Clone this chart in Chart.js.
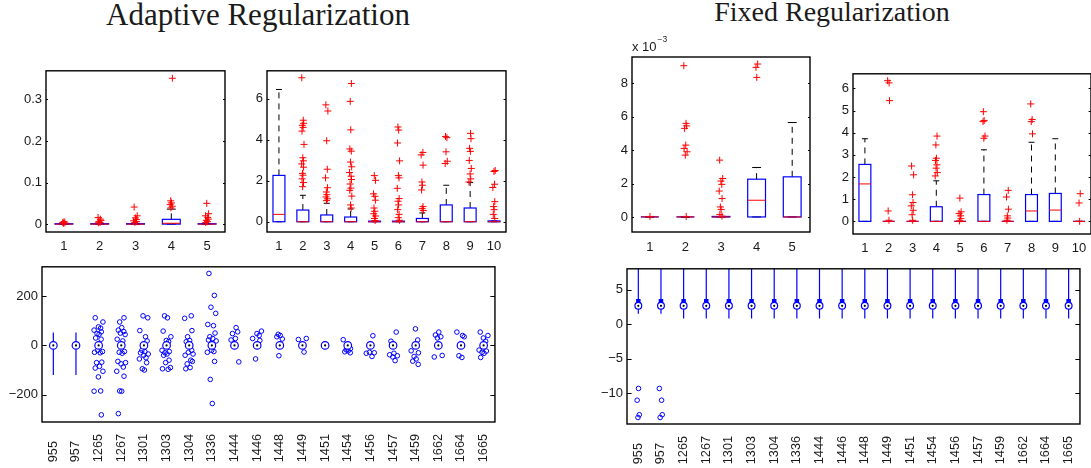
<!DOCTYPE html>
<html>
<head>
<meta charset="utf-8">
<script src="https://cdn.jsdelivr.net/npm/chart.js@4.4.1/dist/chart.umd.min.js"></script>
<style>
  html, body { margin: 0; padding: 0; background: #fff; }
  #fig { position: relative; width: 1091px; height: 468px; overflow: hidden; background: #fff; }
  #fig canvas { position: absolute; }
  .title { position: absolute; font-family: 'Liberation Serif', 'Times New Roman', serif; color: #1a1a1a;
           white-space: nowrap; line-height: 1; transform: translateX(-50%); }
</style>
</head>
<body>
<div id="fig">
  <div class="title" style="left:258px; top:-1px; font-size:31px;">Adaptive Regularization</div>
  <div class="title" style="left:832px; top:-2px; font-size:28px;">Fixed Regularization</div>
  <canvas id="adaptiveSmall"></canvas>
  <canvas id="adaptiveLarge"></canvas>
  <canvas id="adaptiveSites"></canvas>
  <canvas id="fixedSmall"></canvas>
  <canvas id="fixedLarge"></canvas>
  <canvas id="fixedSites"></canvas>
</div>
<script>
// ---------- Adaptive regularization: first component (groups 1-5) ----------
const adaptiveSmallCats = ['1', '2', '3', '4', '5'];
const adaptiveSmallQ1  = [0, 0, 0, 0, 0];
const adaptiveSmallMed = [0, 0, 0, 0.002, 0];
const adaptiveSmallQ3  = [0.001, 0.001, 0.001, 0.0115, 0.001];
const adaptiveSmallLo  = [0, 0, 0, 0, 0];
const adaptiveSmallHi  = [0.001, 0.001, 0.001, 0.036, 0.001];
const adaptiveSmallOut = [
  [0.006, 0.004, 0.003, 0.002],
  [0.016, 0.012, 0.009, 0.006, 0.004, 0.003],
  [0.041, 0.02, 0.015, 0.011, 0.008, 0.006, 0.004],
  [0.351, 0.056, 0.051, 0.047, 0.043, 0.039],
  [0.05, 0.025, 0.02, 0.016, 0.012, 0.009, 0.006, 0.004]
];
const adaptiveSmallTicks = [0, 0.1, 0.2, 0.3];

// ---------- Adaptive regularization: second component (groups 1-10) ----------
const adaptiveLargeCats = ['1', '2', '3', '4', '5', '6', '7', '8', '9', '10'];
const adaptiveLargeQ1  = [0, 0, 0, 0, 0, 0, 0, 0, 0, 0];
const adaptiveLargeMed = [0.36, 0, 0, 0, 0, 0, 0, 0, 0, 0];
const adaptiveLargeQ3  = [2.26, 0.57, 0.33, 0.23, 0.03, 0.03, 0.16, 0.82, 0.67, 0.04];
const adaptiveLargeLo  = [0, 0, 0, 0, 0, 0, 0, 0, 0, 0];
const adaptiveLargeHi  = [6.45, 1.29, 0.9, 0.62, 0.03, 0.03, 0.43, 1.78, 1.91, 0.04];
const adaptiveLargeOut = [
  [],
  [7.02, 4.95, 4.8, 4.7, 4.6, 4.42, 3.77, 3.12, 2.97, 2.82, 2.66, 2.36, 2.27, 2.09, 1.91, 1.71],
  [5.7, 5.4, 3.95, 2.56, 2.14, 1.66, 1.45, 1.32, 1.21, 1.12, 1.03],
  [6.74, 5.87, 4.48, 3.55, 3.44, 2.91, 2.68, 2.4, 2.22, 2.06, 1.84, 1.64, 1.53, 1.25, 0.82, 0.67],
  [2.25, 2.02, 1.36, 1.24, 1.05, 0.67, 0.51, 0.39, 0.28, 0.16, 0.06],
  [4.62, 4.47, 3.84, 2.97, 2.25, 2.14, 1.63, 1.13, 1.0, 0.82, 0.59, 0.36, 0.2, 0.07],
  [3.38, 3.26, 2.76, 1.94, 1.78, 1.55, 0.74, 0.64, 0.55],
  [4.16, 4.1, 3.41, 2.95, 2.84],
  [4.31, 4.05, 3.58, 3.43, 2.99, 2.6, 2.33, 2.09, 1.94],
  [2.5, 2.45, 1.83, 1.67, 0.98, 0.74, 0.59, 0.36, 0.16]
];
const adaptiveLargeTicks = [0, 2, 4, 6];

// ---------- Adaptive regularization: per-site residuals ----------
const adaptiveSitesCats = ['955', '957', '1265', '1267', '1301', '1303', '1304', '1336', '1444', '1446',
                           '1448', '1449', '1451', '1454', '1456', '1457', '1459', '1662', '1664', '1665'];
const adaptiveSitesQ1  = [0, 0, 0, 0, 0, 0, 0, 0, 0, 0, 0, 0, 0, 0, 0, 0, 0, 0, 0, 0];
const adaptiveSitesMed = [0, 0, 0, 0, 0, 0, 0, 0, 0, 0, 0, 0, 0, 0, 0, 0, 0, 0, 0, 0];
const adaptiveSitesQ3  = [0, 0, 0, 0, 0, 0, 0, 0, 0, 0, 0, 0, 0, 0, 0, 0, 0, 0, 0, 0];
const adaptiveSitesLo  = [-120, -120, 0, 0, 0, 0, 0, 0, 0, 0, 0, 0, 0, 0, 0, 0, 0, 0, 0, 0];
const adaptiveSitesHi  = [52, 52, 0, 0, 0, 0, 0, 0, 0, 0, 0, 0, 0, 0, 0, 0, 0, 0, 0, 0];
const adaptiveSitesOut = [
  [],
  [],
  [112, 95, 75, 70, 62, 55, 48, 45, 30, 25, -20, -25, -28, -30, -68, -70, -85, -92, -105, -128, -185, -186, -282],
  [112, 95, 72, 62, 56, 50, 44, 25, 18, -25, -28, -32, -65, -70, -75, -88, -105, -125, -185, -186, -277],
  [120, 112, 60, 35, 18, -20, -25, -30, -35, -40, -50, -55, -70, -95, -100],
  [120, 112, 58, 35, 20, 15, -20, -25, -30, -35, -40, -60, -70, -90, -95, -97],
  [120, 110, 60, 35, 20, 15, -20, -28, -35, -40, -60, -65, -75, -90, -95],
  [292, 203, 155, 130, 85, 80, 50, 35, 28, 22, 18, -20, -25, -28, -65, -138, -236],
  [72, 55, 48, 28, 22, -67],
  [58, 48, 40, 28, 20, -55],
  [45, 40, 35, 26, -42],
  [28, 24, -27],
  [],
  [23, -13, -18, -22, -26, -30],
  [39, -28, -30, -32, -45],
  [54, 17, -32, -38, -42, -47, -62],
  [67, 22, -22, -30, -45, -55, -64, -77],
  [54, 42, 35, 30, -41, -47],
  [54, 40, 35, -42, -49],
  [54, 40, 30, 17, -19, -23, -28, -32, -49]
];
const adaptiveSitesTicks = [-200, 0, 200];

// ---------- Fixed regularization: first component, in units of 1e-3 ----------
const fixedSmallCats = ['1', '2', '3', '4', '5'];
const fixedSmallQ1  = [0, 0, 0, 0, 0];
const fixedSmallMed = [0, 0, 0, 1.0, 0];
const fixedSmallQ3  = [0, 0, 0.03, 2.26, 2.4];
const fixedSmallLo  = [0, 0, 0, 0, 0];
const fixedSmallHi  = [0, 0, 0.03, 2.96, 5.65];
const fixedSmallOut = [
  [0.03],
  [9.05, 5.6, 5.45, 5.3, 4.3, 4.1, 3.9, 3.7, 0.03],
  [3.4, 2.3, 2.15, 1.95, 1.55, 1.1, 0.6, 0.45, 0.15, 0.05],
  [9.15, 8.95, 8.35],
  []
];
const fixedSmallTicks = [0, 2, 4, 6, 8];

// ---------- Fixed regularization: second component (groups 1-10) ----------
const fixedLargeCats = ['1', '2', '3', '4', '5', '6', '7', '8', '9', '10'];
const fixedLargeQ1  = [0, 0, 0, 0, 0, 0, 0, 0, 0, 0];
const fixedLargeMed = [1.69, 0, 0, 0, 0, 0, 0, 0.47, 0.51, 0];
const fixedLargeQ3  = [2.57, 0, 0, 0.66, 0, 1.21, 0, 1.21, 1.26, 0];
const fixedLargeLo  = [0, 0, 0, 0, 0, 0, 0, 0, 0, 0];
const fixedLargeHi  = [3.73, 0, 0, 1.83, 0, 3.23, 0, 3.57, 3.73, 0];
const fixedLargeOut = [
  [],
  [6.35, 6.25, 5.45, 0.47, 0.05],
  [2.5, 2.1, 1.2, 0.85, 0.7, 0.5, 0.3, 0.05],
  [3.85, 3.45, 2.85, 2.75, 2.55, 2.4, 2.2, 2.05],
  [1.05, 0.43, 0.35, 0.25, 0.12, 0.02],
  [4.95, 4.55, 4.5, 3.85, 3.75],
  [1.4, 1.1, 0.55, 0.25, 0.15, 0.05],
  [5.3, 4.6, 4.5, 3.95],
  [],
  [1.25, 0.83, 0.0]
];
const fixedLargeTicks = [0, 1, 2, 3, 4, 5, 6];

// ---------- Fixed regularization: per-site residuals ----------
const fixedSitesCats = ['955', '957', '1265', '1267', '1301', '1303', '1304', '1336', '1444', '1446',
                        '1448', '1449', '1451', '1454', '1456', '1457', '1459', '1662', '1664', '1665'];
const fixedSitesQ1  = [2.4, 2.4, 2.4, 2.4, 2.4, 2.4, 2.4, 2.4, 2.4, 2.4, 2.4, 2.4, 2.4, 2.4, 2.4, 2.4, 2.4, 2.4, 2.4, 2.4];
const fixedSitesMed = [2.65, 2.65, 2.65, 2.65, 2.65, 2.65, 2.65, 2.65, 2.65, 2.65, 2.65, 2.65, 2.65, 2.65, 2.65, 2.65, 2.65, 2.65, 2.65, 2.65];
const fixedSitesQ3  = [3.65, 3.65, 3.65, 3.65, 3.65, 3.65, 3.65, 3.65, 3.65, 3.65, 3.65, 3.65, 3.65, 3.65, 3.65, 3.65, 3.65, 3.65, 3.65, 3.65];
const fixedSitesLo  = [1.5, 1.5, 0.8, 0.8, 0.8, 0.8, 0.8, 0.8, 0.8, 0.8, 0.8, 0.8, 0.8, 0.8, 0.8, 0.8, 0.8, 0.8, 0.8, 0.8];
const fixedSitesHi  = [9, 9, 9, 9, 9, 9, 9, 9, 9, 9, 9, 9, 9, 9, 9, 9, 9, 9, 9, 9];
const fixedSitesOut = [
  [-9.3, -11.0, -13.1, -13.5],
  [-9.3, -11.0, -13.1, -13.5],
  [], [], [], [], [], [], [], [], [], [], [], [], [], [], [], [], [], []
];
const fixedSitesTicks = [-10, -5, 0, 5];

// Horizontal spread used to keep overlapping outlier markers apart
const jitterPattern = [0.02, -0.13, 0.11, -0.04, 0.17, -0.18, 0.07, 0.14, -0.09, 0.04, -0.15, 0.19, -0.01, 0.09, -0.2, 0.12, -0.07];

// ------------------------------------------------------------------
Chart.defaults.font.family = "'Liberation Sans', Arial, Helvetica, sans-serif";
Chart.defaults.color = '#1a1a1a';

const INK = '#1a1a1a';
const BLUE = '#0000ff';
const RED = '#ff0000';

function jitterAt(group, k) { return jitterPattern[(group * 5 + k) % jitterPattern.length]; }
function withMinus(v) { return String(v).replace('-', '\u2212'); }
// rotated labels start at a common baseline: pad shorter ones with figure spaces
function padLabel(s) { return s + '\u2007'.repeat(Math.max(0, 4 - s.length)); }

// Box-and-whisker drawing through the chart's own scales
const boxPlotPlugin = {
  id: 'boxPlot',
  beforeDatasetsDraw(chart) {
    const cfg = chart.options.plugins.boxPlot;
    if (!cfg) return;
    const { ctx, chartArea: a } = chart;
    const xs = chart.scales.x, ys = chart.scales.y;
    const unit = xs.getPixelForValue(1) - xs.getPixelForValue(0);
    ctx.save();
    ctx.beginPath();
    ctx.rect(a.left, a.top, a.right - a.left, a.bottom - a.top);
    ctx.clip();
    const n = cfg.q1.length;
    for (let i = 0; i < n; i++) {
      const cx = xs.getPixelForValue(i + 1);
      const yq1 = ys.getPixelForValue(cfg.q1[i]);
      const yq3 = ys.getPixelForValue(cfg.q3[i]);
      const ymed = ys.getPixelForValue(cfg.med[i]);
      const ylo = ys.getPixelForValue(cfg.lo[i]);
      const yhi = ys.getPixelForValue(cfg.hi[i]);
      if (cfg.compact) {
        ctx.strokeStyle = BLUE;
        ctx.lineCap = 'butt';
        ctx.lineWidth = 1.2;
        ctx.beginPath(); ctx.moveTo(cx, ylo); ctx.lineTo(cx, yhi); ctx.stroke();
        ctx.lineWidth = 4.5;
        ctx.beginPath(); ctx.moveTo(cx, yq1); ctx.lineTo(cx, yq3); ctx.stroke();
      } else {
        const half = unit * 0.25, capHalf = unit * 0.125;
        ctx.strokeStyle = '#000';
        ctx.lineWidth = 1;
        ctx.setLineDash([6, 5]);
        if (cfg.hi[i] > cfg.q3[i]) { ctx.beginPath(); ctx.moveTo(cx, yq3); ctx.lineTo(cx, yhi); ctx.stroke(); }
        if (cfg.lo[i] < cfg.q1[i]) { ctx.beginPath(); ctx.moveTo(cx, yq1); ctx.lineTo(cx, ylo); ctx.stroke(); }
        ctx.setLineDash([]);
        ctx.beginPath();
        ctx.moveTo(cx - capHalf, yhi); ctx.lineTo(cx + capHalf, yhi);
        ctx.moveTo(cx - capHalf, ylo); ctx.lineTo(cx + capHalf, ylo);
        ctx.stroke();
        ctx.strokeStyle = BLUE;
        ctx.lineWidth = 1.2;
        ctx.strokeRect(cx - half, yq3, 2 * half, yq1 - yq3);
        ctx.strokeStyle = RED;
        ctx.lineWidth = 1;
        ctx.beginPath(); ctx.moveTo(cx - half, ymed); ctx.lineTo(cx + half, ymed); ctx.stroke();
      }
    }
    ctx.restore();
  }
};

// Boxed axes with inward tick marks on both sides, plus optional exponent note
const framePlugin = {
  id: 'axesFrame',
  afterDraw(chart) {
    const opts = chart.options.plugins.axesFrame || {};
    const { ctx, chartArea: a } = chart;
    const ys = chart.scales.y;
    const len = opts.tickLength || 3;
    ctx.save();
    ctx.strokeStyle = '#000';
    ctx.lineWidth = 1;
    ys.ticks.forEach(t => {
      const py = Math.round(ys.getPixelForValue(t.value)) + 0.5;
      ctx.beginPath();
      ctx.moveTo(a.left, py); ctx.lineTo(a.left + len, py);
      ctx.moveTo(a.right, py); ctx.lineTo(a.right - len, py);
      ctx.stroke();
    });
    ctx.lineWidth = 1.4;
    ctx.strokeRect(a.left, a.top, a.right - a.left, a.bottom - a.top);
    if (opts.exponent) {
      ctx.fillStyle = INK;
      ctx.textBaseline = 'alphabetic';
      ctx.textAlign = 'left';
      ctx.font = "13px 'Liberation Sans', Arial, sans-serif";
      const base = 'x 10';
      ctx.fillText(base, a.left, a.top - 6);
      const w = ctx.measureText(base).width;
      ctx.font = "8.5px 'Liberation Sans', Arial, sans-serif";
      ctx.fillText(withMinus(opts.exponent), a.left + w + 1, a.top - 15);
    }
    ctx.restore();
  }
};

function buildPanel(p) {
  const el = document.getElementById(p.id);
  el.width = p.yAxisWidth + p.area.w + p.padRight;
  el.height = p.padTop + p.area.h + p.xAxisHeight;
  el.style.left = (p.area.x - p.yAxisWidth) + 'px';
  el.style.top = (p.area.y - p.padTop) + 'px';

  const outPts = [];
  p.out.forEach((vals, g) => vals.forEach((v, k) => outPts.push({ x: g + 1 + p.spread * jitterAt(g, k), y: v })));

  let datasets;
  if (p.compact) {
    const medPts = p.cats.map((_, i) => ({ x: i + 1, y: p.med[i] }));
    datasets = [
      { data: medPts, pointStyle: 'circle', pointRadius: 1.1, backgroundColor: '#000', borderWidth: 0 },
      { data: medPts, pointStyle: 'circle', pointRadius: p.medianRadius, backgroundColor: '#fff', borderColor: BLUE, borderWidth: 1.2 },
      { data: outPts, pointStyle: 'circle', pointRadius: p.outlierRadius, backgroundColor: 'rgba(0,0,0,0)', borderColor: BLUE, borderWidth: 1 }
    ];
  } else {
    datasets = [
      { data: outPts, pointStyle: 'cross', pointRadius: 3.5, borderColor: RED, backgroundColor: RED, borderWidth: 1 }
    ];
  }

  return new Chart(el, {
    type: 'scatter',
    data: { datasets },
    options: {
      responsive: false,
      animation: false,
      devicePixelRatio: 1,
      events: [],
      layout: { padding: { top: p.padTop, right: p.padRight, left: 0, bottom: 0 } },
      plugins: {
        legend: { display: false },
        tooltip: { enabled: false },
        boxPlot: { q1: p.q1, med: p.med, q3: p.q3, lo: p.lo, hi: p.hi, compact: p.compact },
        axesFrame: { tickLength: p.tickLength, exponent: p.exponent }
      },
      scales: {
        x: {
          type: 'linear', min: 0.5, max: p.cats.length + 0.5,
          grid: { display: false, drawTicks: false }, border: { display: false },
          afterBuildTicks: s => { s.ticks = p.cats.map((_, i) => ({ value: i + 1 })); },
          afterFit: s => { s.height = p.xAxisHeight; },
          ticks: {
            autoSkip: false,
            maxRotation: p.compact ? 90 : 0, minRotation: p.compact ? 90 : 0,
            padding: p.xPad, color: INK, font: { size: p.xFont },
            callback: (v, i) => p.compact ? padLabel(p.cats[i]) : p.cats[i]
          }
        },
        y: {
          type: 'linear', min: p.yMin, max: p.yMax,
          grid: { display: false, drawTicks: false }, border: { display: false },
          afterBuildTicks: s => { s.ticks = p.yTicks.map(v => ({ value: v })); },
          afterFit: s => { s.width = p.yAxisWidth; },
          ticks: { padding: 4, color: INK, font: { size: 13 }, callback: v => withMinus(v) }
        }
      }
    },
    plugins: [boxPlotPlugin, framePlugin]
  });
}

buildPanel({
  id: 'adaptiveSmall', area: { x: 46, y: 63, w: 180, h: 169 }, yAxisWidth: 44, padTop: 4, padRight: 4, xAxisHeight: 24,
  cats: adaptiveSmallCats, q1: adaptiveSmallQ1, med: adaptiveSmallMed, q3: adaptiveSmallQ3,
  lo: adaptiveSmallLo, hi: adaptiveSmallHi, out: adaptiveSmallOut, yTicks: adaptiveSmallTicks,
  yMin: -0.019, yMax: 0.369, compact: false, spread: 0.25, tickLength: 2, xPad: 7, xFont: 13
});
buildPanel({
  id: 'adaptiveLarge', area: { x: 267, y: 63, w: 240, h: 169 }, yAxisWidth: 44, padTop: 4, padRight: 4, xAxisHeight: 24,
  cats: adaptiveLargeCats, q1: adaptiveLargeQ1, med: adaptiveLargeMed, q3: adaptiveLargeQ3,
  lo: adaptiveLargeLo, hi: adaptiveLargeHi, out: adaptiveLargeOut, yTicks: adaptiveLargeTicks,
  yMin: -0.5, yMax: 7.36, compact: false, spread: 0.25, tickLength: 2.4, xPad: 7, xFont: 13
});
buildPanel({
  id: 'adaptiveSites', area: { x: 42, y: 259, w: 465, h: 163 }, yAxisWidth: 42, padTop: 4, padRight: 4, xAxisHeight: 46,
  cats: adaptiveSitesCats, q1: adaptiveSitesQ1, med: adaptiveSitesMed, q3: adaptiveSitesQ3,
  lo: adaptiveSitesLo, hi: adaptiveSitesHi, out: adaptiveSitesOut, yTicks: adaptiveSitesTicks,
  yMin: -311, yMax: 319, compact: true, spread: 1, medianRadius: 3.8, outlierRadius: 2.3,
  tickLength: 4.6, xPad: 12, xFont: 12.7
});
buildPanel({
  id: 'fixedSmall', area: { x: 632, y: 57, w: 179, h: 175 }, yAxisWidth: 44, padTop: 30, padRight: 4, xAxisHeight: 24,
  cats: fixedSmallCats, q1: fixedSmallQ1, med: fixedSmallMed, q3: fixedSmallQ3,
  lo: fixedSmallLo, hi: fixedSmallHi, out: fixedSmallOut, yTicks: fixedSmallTicks,
  yMin: -0.9, yMax: 9.57, compact: false, spread: 0.25, tickLength: 2, xPad: 7.5, xFont: 13, exponent: '-3'
});
buildPanel({
  id: 'fixedLarge', area: { x: 853, y: 66, w: 239, h: 168 }, yAxisWidth: 44, padTop: 4, padRight: 4, xAxisHeight: 24,
  cats: fixedLargeCats, q1: fixedLargeQ1, med: fixedLargeMed, q3: fixedLargeQ3,
  lo: fixedLargeLo, hi: fixedLargeHi, out: fixedLargeOut, yTicks: fixedLargeTicks,
  yMin: -0.57, yMax: 6.66, compact: false, spread: 0.25, tickLength: 2.4, xPad: 7, xFont: 13
});
buildPanel({
  id: 'fixedSites', area: { x: 627, y: 261, w: 465, h: 163 }, yAxisWidth: 44, padTop: 4, padRight: 4, xAxisHeight: 44,
  cats: fixedSitesCats, q1: fixedSitesQ1, med: fixedSitesMed, q3: fixedSitesQ3,
  lo: fixedSitesLo, hi: fixedSitesHi, out: fixedSitesOut, yTicks: fixedSitesTicks,
  yMin: -14.44, yMax: 8.0, compact: true, spread: 0.4, medianRadius: 3.4, outlierRadius: 2.3,
  tickLength: 4.6, xPad: 12, xFont: 12.7
});
</script>
</body>
</html>
